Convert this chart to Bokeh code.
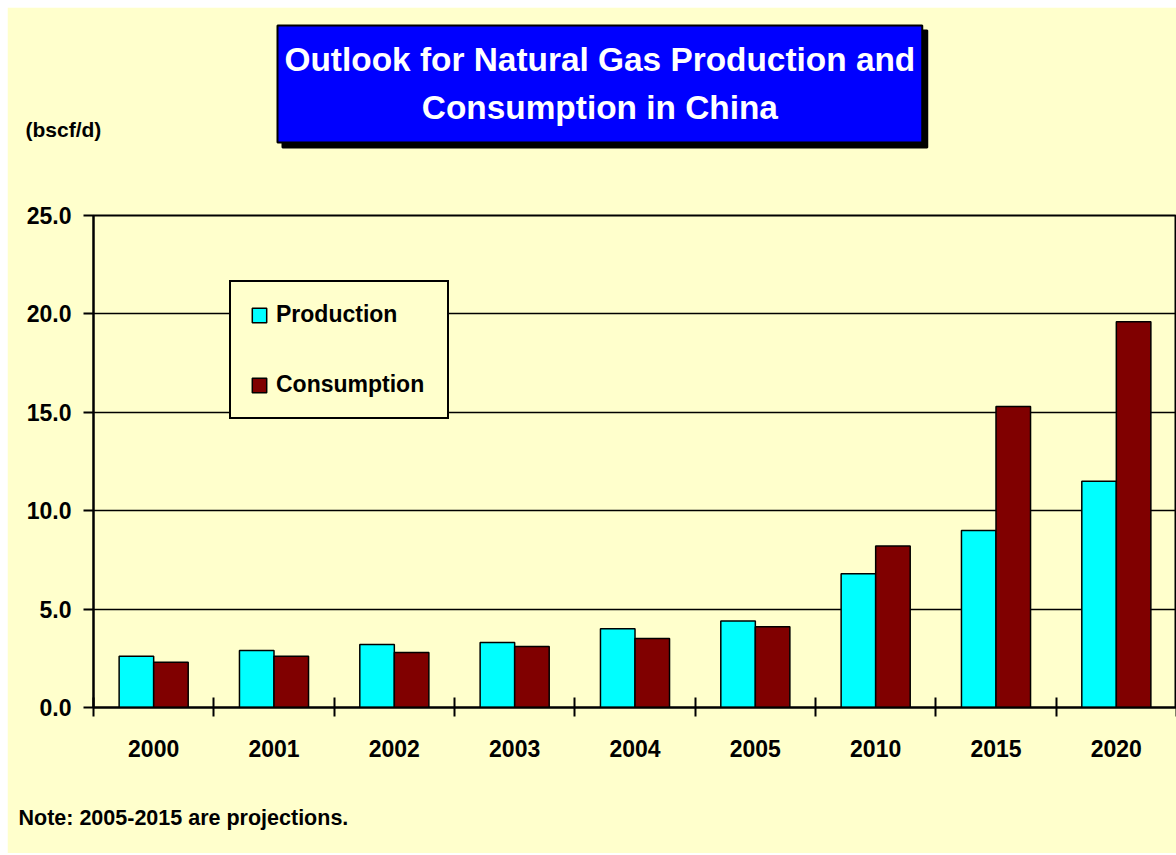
from bokeh.plotting import figure
from bokeh.models import (Range1d, FixedTicker, NumeralTickFormatter, ColumnDataSource,
                          Legend, LegendItem, Title)
from bokeh.transform import dodge
from bokeh.embed import file_html
from bokeh.resources import INLINE

years = ["2000", "2001", "2002", "2003", "2004", "2005", "2010", "2015", "2020"]
production = [2.6, 2.9, 3.2, 3.3, 4.0, 4.4, 6.8, 9.0, 11.5]
consumption = [2.3, 2.6, 2.8, 3.1, 3.5, 4.1, 8.2, 15.3, 19.6]
y_ticks = [0, 5, 10, 15, 20, 25]

BG = "#FFFFCC"
FONT = "Liberation Sans"

idx = list(range(len(years)))
src = ColumnDataSource(dict(x=idx, year=years, prod=production, cons=consumption))

p = figure(width=1169, height=846, output_backend="svg", toolbar_location=None,
           x_range=Range1d(-0.5, len(years) - 0.5), y_range=Range1d(0, 25),
           min_border_left=86, min_border_right=0, min_border_top=208, min_border_bottom=146)
p.styles = {"margin-left": "7px", "margin-top": "7px"}
p.background_fill_color = BG
p.border_fill_color = BG
p.outline_line_color = "black"
p.outline_line_width = 2

bw = 0.287
r1 = p.vbar(x=dodge("x", -bw / 2, range=p.x_range), top="prod", width=bw, source=src,
            fill_color="#00FFFF", line_color="black", line_width=1.5)
r2 = p.vbar(x=dodge("x", bw / 2, range=p.x_range), top="cons", width=bw, source=src,
            fill_color="#800000", line_color="black", line_width=1.5)

# x axis: labels at centres, tick marks at category boundaries
xa = p.xaxis[0]
xa.ticker = FixedTicker(ticks=idx, minor_ticks=[i - 0.5 for i in range(len(years) + 1)])
xa.major_label_overrides = {i: y for i, y in zip(idx, years)}
xa.major_tick_line_color = None
xa.major_tick_out = 0
xa.major_tick_in = 0
xa.minor_tick_line_color = "black"
xa.minor_tick_line_width = 2
xa.minor_tick_in = 10
xa.minor_tick_out = 9
xa.major_label_standoff = 23
xa.axis_line_width = 2
xa.axis_line_color = "black"

ya = p.yaxis[0]
ya.ticker = FixedTicker(ticks=y_ticks)
ya.formatter = NumeralTickFormatter(format="0.0")
ya.major_tick_out = 10
ya.major_tick_in = 0
ya.major_tick_line_width = 2
ya.minor_tick_line_color = None
ya.axis_line_width = 2
ya.axis_line_color = "black"
ya.major_label_standoff = 12

for ax in (xa, ya):
    ax.major_label_text_font = FONT
    ax.major_label_text_font_style = "bold"
    ax.major_label_text_font_size = "23px"
    ax.major_label_text_color = "black"
    if "major_label_background_fill_color" in ax.properties():
        ax.major_label_background_fill_color = "white"

p.xgrid.grid_line_color = None
p.ygrid.ticker = FixedTicker(ticks=y_ticks)
p.ygrid.grid_line_color = "black"
p.ygrid.grid_line_width = 1.5

legend = Legend(items=[LegendItem(label="Production", renderers=[r1]),
                       LegendItem(label="Consumption", renderers=[r2])],
                location=(136, 288))
legend.background_fill_color = BG
legend.background_fill_alpha = 1
legend.border_line_color = "black"
legend.border_line_alpha = 1
legend.border_line_width = 2
legend.label_text_font = FONT
legend.label_text_font_style = "bold"
legend.label_text_font_size = "23px"
legend.label_text_color = "black"
legend.glyph_width = 18
legend.glyph_height = 18
legend.label_standoff = 8
legend.label_width = 152
legend.padding = 19
legend.spacing = 43
legend.margin = 0
p.add_layout(legend, "center")

# texts outside the frame, in side panels (closest to the frame first)
unit = Title(text="(bscf/d)", align="left", offset=-68, standoff=150,
             vertical_align="bottom", text_font=FONT, text_font_style="bold",
             text_font_size="21px", text_color="black")
p.add_layout(unit, "above")

title_text = "Outlook for Natural Gas Production and\nConsumption in China"
title_style = dict(align="left", vertical_align="bottom", text_align="center",
                   text_font=FONT, text_font_style="bold", text_font_size="33.4px",
                   text_line_height=1.3, border_line_color="black",
                   border_line_width=2, padding=(7, 16))
shadow = Title(text=title_text, offset=189, standoff=-214, text_color="black",
               background_fill_color="black", **title_style)
p.add_layout(shadow, "above")
title = Title(text=title_text, offset=184, standoff=-204, text_color="white",
              background_fill_color="#0000FF", **title_style)
p.add_layout(title, "above")

note = Title(text="Note: 2005-2015 are projections.", align="left", offset=-75,
             standoff=-140, vertical_align="bottom", text_font=FONT,
             text_font_style="bold", text_font_size="21.5px", text_color="black")
p.add_layout(note, "below")

open("out.html", "w").write(file_html(p, INLINE))
